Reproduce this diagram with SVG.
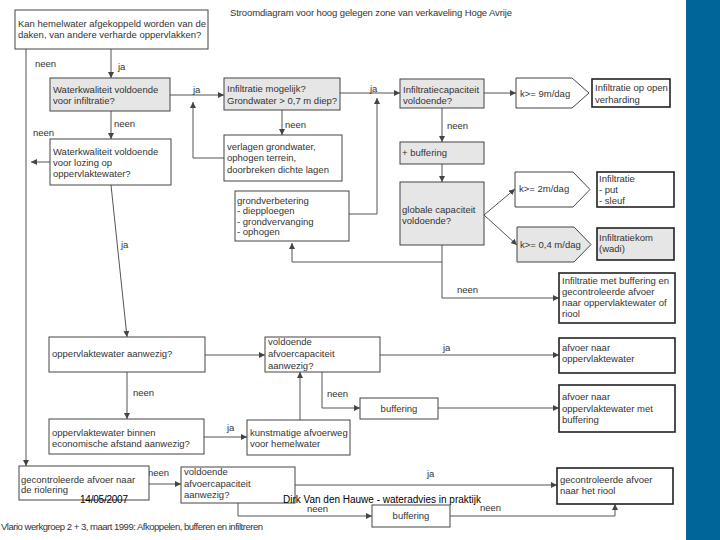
<svg xmlns="http://www.w3.org/2000/svg" width="720" height="540" viewBox="0 0 720 540">
<defs>
<marker id="ah" viewBox="0 0 6 6" refX="6" refY="3" markerWidth="6" markerHeight="6" markerUnits="userSpaceOnUse" orient="auto">
<path d="M0,0 L6,3 L0,6 z" fill="#444"/>
</marker>
<style>
text{font-family:"Liberation Sans",Arial,sans-serif;font-size:9.5px;fill:#333}
.b{fill:#fff;stroke:#444;stroke-width:1}
.s{fill:#e6e6e6;stroke:#444;stroke-width:1}
.t{fill:#fff;stroke:#222;stroke-width:1.6}
.ts{fill:#e6e6e6;stroke:#222;stroke-width:1.6}
.c{fill:none;stroke:#555;stroke-width:1}
.a{marker-end:url(#ah)}
.foot{fill:#000;font-size:10px}
</style>
</defs>
<rect width="720" height="540" fill="#fff"/>
<rect x="686" y="0" width="34" height="540" fill="#006699"/>
<text x="230" y="16" textLength="282">Stroomdiagram voor hoog gelegen zone van verkaveling Hoge Avrije</text>

<g id="connectors">
<path class="c a" d="M111,49 V78"/>
<path class="c a" d="M26,49 V466"/>
<path class="c a" d="M170,95 H224"/>
<path class="c a" d="M111,111 V139"/>
<path class="c a" d="M50,162 H31"/>
<path class="c a" d="M111,185 L127,337"/>
<path class="c a" d="M282,110 V135"/>
<path class="c a" d="M224,158 H193 V102"/>
<path class="c a" d="M340,93 H400"/>
<path class="c a" d="M349,214 H377 V98"/>
<path class="c a" d="M442,108 V142"/>
<path class="c a" d="M442,164 V182"/>
<path class="c a" d="M484,93 H516"/>
<path class="c a" d="M484,215 L515,189"/>
<path class="c a" d="M484,215 L517,245"/>
<path class="c a" d="M442,245 V298 H559"/>
<path class="c a" d="M442,262 H292 V243"/>
<path class="c a" d="M205,355 H265"/>
<path class="c a" d="M380,355 H559"/>
<path class="c a" d="M322,372 V408 H360"/>
<path class="c a" d="M438,408 H559"/>
<path class="c a" d="M127,372 V419"/>
<path class="c a" d="M204,437 H247"/>
<path class="c a" d="M300,420 V372"/>
<path class="c a" d="M149,484 H181"/>
<path class="c a" d="M295,485 H557"/>
<path class="c a" d="M238,503 V516 H372"/>
<path class="c a" d="M450,516 H615 V504"/>
<text x="35" y="67">neen</text>
<text x="118" y="70">ja</text>
<text x="193" y="93">ja</text>
<text x="114" y="127">neen</text>
<text x="33" y="136">neen</text>
<text x="285" y="128">neen</text>
<text x="370" y="92">ja</text>
<text x="447" y="129">neen</text>
<text x="121" y="248">ja</text>
<text x="457" y="293">neen</text>
<text x="443" y="351">ja</text>
<text x="133" y="396">neen</text>
<text x="327" y="397">neen</text>
<text x="227" y="431">ja</text>
<text x="148" y="476">neen</text>
<text x="427" y="477">ja</text>
<text x="307" y="512">neen</text>
<text x="480" y="511">neen</text>
</g>

<g id="n-afkoppelen">
<rect class="b" x="15" y="10" width="193" height="39"/>
<text x="18" y="27">Kan hemelwater afgekoppeld worden van de</text>
<text x="18" y="38">daken, van andere verharde oppervlakken?</text>
</g>
<g id="n-kwaliteit-infiltratie">
<rect class="s" x="50" y="78" width="120" height="33"/>
<text x="53" y="93">Waterkwaliteit voldoende</text>
<text x="53" y="104">voor infiltratie?</text>
</g>
<g id="n-infiltratie-mogelijk">
<rect class="s" x="224" y="78" width="116" height="32"/>
<text x="227" y="92">Infiltratie mogelijk?</text>
<text x="227" y="104" font-size="10">Grondwater &gt; 0,7 m diep?</text>
</g>
<g id="n-infiltratiecapaciteit">
<rect class="s" x="400" y="79" width="84" height="29"/>
<text x="403" y="93">Infiltratiecapaciteit</text>
<text x="403" y="104">voldoende?</text>
</g>
<g id="n-k9">
<path class="b" d="M516,78 H572 L589,93 L572,108 H516 Z"/>
<text x="520" y="97">k&gt;= 9m/dag</text>
</g>
<g id="n-open-verharding">
<rect class="t" x="592" y="79" width="78" height="28"/>
<text x="595" y="91">Infiltratie op open</text>
<text x="595" y="103">verharding</text>
</g>
<g id="n-kwaliteit-lozing">
<rect class="b" x="50" y="139" width="121" height="46"/>
<text x="53" y="155">Waterkwaliteit voldoende</text>
<text x="53" y="166">voor lozing op</text>
<text x="53" y="177">oppervlaktewater?</text>
</g>
<g id="n-verlagen">
<rect class="b" x="224" y="135" width="118" height="46"/>
<text x="227" y="150">verlagen grondwater,</text>
<text x="227" y="161">ophogen terrein,</text>
<text x="227" y="173">doorbreken dichte lagen</text>
</g>
<g id="n-grondverbetering">
<rect class="b" x="235" y="191" width="114" height="50"/>
<text x="237" y="204">grondverbetering</text>
<text x="237" y="214">- diepploegen</text>
<text x="237" y="225">- grondvervanging</text>
<text x="237" y="235">- ophogen</text>
</g>
<g id="n-buffering-1">
<rect class="s" x="400" y="142" width="84" height="22"/>
<text x="402" y="156">+ buffering</text>
</g>
<g id="n-globale-capaciteit">
<rect class="s" x="400" y="182" width="84" height="63"/>
<text x="402" y="213">globale capaciteit</text>
<text x="402" y="224">voldoende?</text>
</g>
<g id="n-k2">
<path class="b" d="M515,172 H573 L590,189.5 L573,207 H515 Z"/>
<text x="519" y="192">k&gt;= 2m/dag</text>
</g>
<g id="n-put-sleuf">
<rect class="t" x="597" y="172" width="77" height="35"/>
<text x="599" y="182">Infiltratie</text>
<text x="599" y="193">- put</text>
<text x="599" y="204">- sleuf</text>
</g>
<g id="n-k04">
<path class="s" d="M517,227 H574 L591,244.5 L574,262 H517 Z"/>
<text x="520" y="248">k&gt;= 0,4 m/dag</text>
</g>
<g id="n-wadi">
<rect class="ts" x="597" y="228" width="77" height="32"/>
<text x="599" y="241">Infiltratiekom</text>
<text x="599" y="252">(wadi)</text>
</g>
<g id="n-infiltratie-buffering">
<rect class="t" x="559" y="273" width="116" height="50"/>
<text x="562" y="284">Infiltratie met buffering en</text>
<text x="562" y="295">gecontroleerde afvoer</text>
<text x="562" y="306">naar oppervlaktewater of</text>
<text x="562" y="317">riool</text>
</g>
<g id="n-opp-aanwezig">
<rect class="b" x="49" y="337" width="156" height="35"/>
<text x="52" y="357">oppervlaktewater aanwezig?</text>
</g>
<g id="n-afvoercap-1">
<rect class="b" x="265" y="337" width="115" height="35"/>
<text x="268" y="345">voldoende</text>
<text x="268" y="357">afvoercapaciteit</text>
<text x="268" y="369">aanwezig?</text>
</g>
<g id="n-afvoer-opp">
<rect class="t" x="559" y="338" width="116" height="35"/>
<text x="562" y="351">afvoer naar</text>
<text x="562" y="362">oppervlaktewater</text>
</g>
<g id="n-buffering-2">
<rect class="b" x="360" y="398" width="78" height="21"/>
<text x="399" y="412" text-anchor="middle">buffering</text>
</g>
<g id="n-afvoer-opp-buffering">
<rect class="t" x="559" y="385" width="116" height="47"/>
<text x="562" y="400">afvoer naar</text>
<text x="562" y="412">oppervlaktewater met</text>
<text x="562" y="423">buffering</text>
</g>
<g id="n-opp-binnen">
<rect class="b" x="49" y="419" width="155" height="35"/>
<text x="52" y="436">oppervlaktewater binnen</text>
<text x="52" y="447">economische afstand aanwezig?</text>
</g>
<g id="n-kunstmatig">
<rect class="b" x="247" y="420" width="103" height="35"/>
<text x="250" y="436">kunstmatige afvoerweg</text>
<text x="250" y="447">voor hemelwater</text>
</g>
<g id="n-riolering">
<rect class="b" x="19" y="466" width="130" height="34"/>
<text x="21" y="483">gecontroleerde afvoer naar</text>
<text x="21" y="493">de riolering</text>
</g>
<g id="n-afvoercap-2">
<rect class="b" x="181" y="467" width="114" height="36"/>
<text x="184" y="475">voldoende</text>
<text x="184" y="487">afvoercapaciteit</text>
<text x="184" y="498">aanwezig?</text>
</g>
<g id="n-buffering-3">
<rect class="b" x="372" y="505" width="78" height="22"/>
<text x="411" y="519" text-anchor="middle">buffering</text>
</g>
<g id="n-riool">
<rect class="t" x="557" y="468" width="116" height="36"/>
<text x="560" y="483">gecontroleerde afvoer</text>
<text x="560" y="494">naar het riool</text>
</g>

<text x="1" y="530" font-size="8.5" textLength="262">Vlario werkgroep 2 + 3, maart 1999: Afkoppelen, bufferen en infiltreren</text>
<text class="foot" x="80" y="503" textLength="48">14/05/2007</text>
<text class="foot" x="283" y="503" textLength="198">Dirk Van den Hauwe - wateradvies in praktijk</text>
</svg>
